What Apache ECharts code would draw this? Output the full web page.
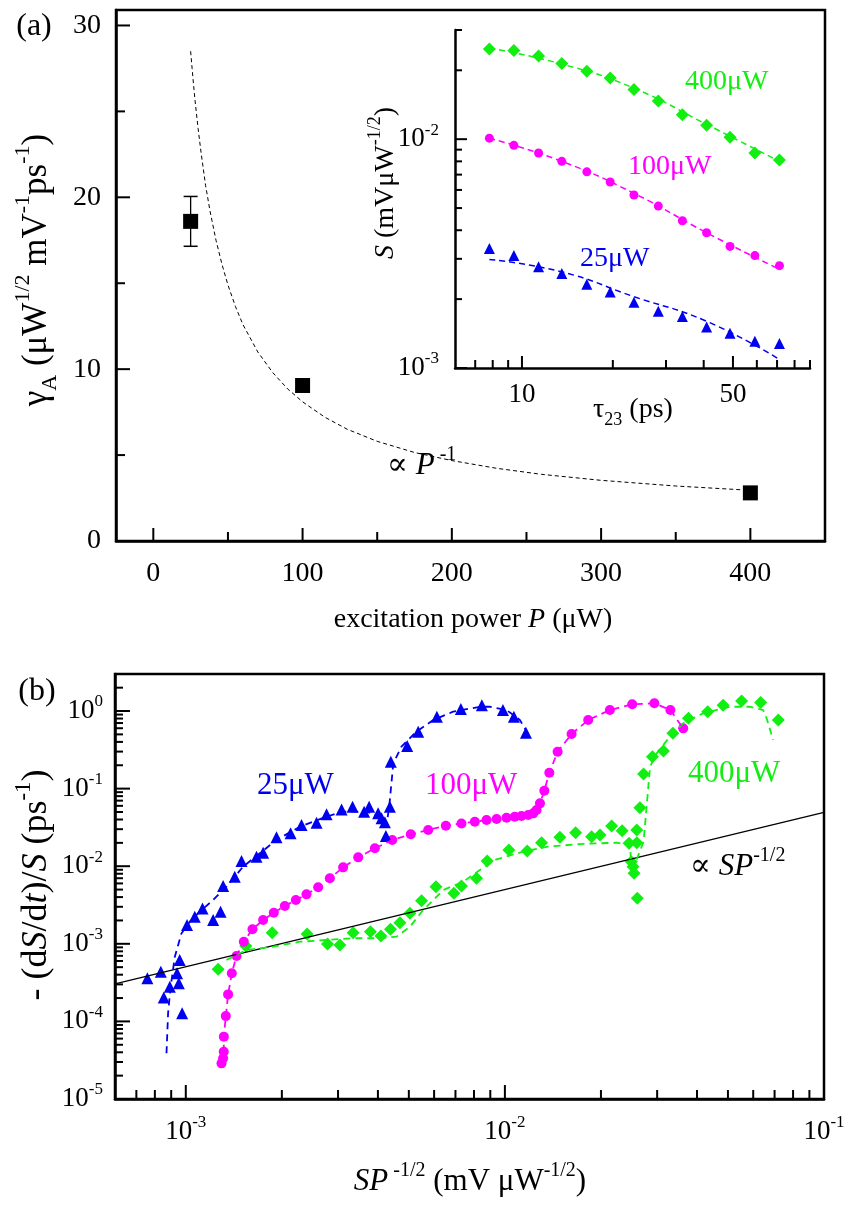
<!DOCTYPE html>
<html>
<head>
<meta charset="utf-8">
<script src="https://cdn.jsdelivr.net/npm/echarts@6/dist/echarts.min.js"></script>
<style>
html, body { margin: 0; padding: 0; background: #fff; }
#chart { width: 853px; height: 1205px; }
</style>
</head>
<body>
<div id="chart"></div>
<script>
var F = "'Liberation Serif', 'Times New Roman', 'DejaVu Serif', serif";
var BLUE = '#0000f0', MAG = '#ff00ff', GREEN = '#11ee11';

// ---- panel (a): gamma_A vs excitation power
var powerP = [25, 100, 400];
var gammaA = [18.6, 9.05, 2.8];
var errP = [25];
var errLo = [17.15];
var errHi = [20.05];
// dashed ~1/P curve
var fitP = [25, 26, 27, 28, 30, 32, 35, 38, 42, 46, 50, 55, 60, 70, 80, 90, 100, 115, 130, 150, 175, 200, 230, 260, 300, 350, 400];
var fitGamma = [28.5, 27.5, 26.5, 25.6, 24.0, 22.6, 20.7, 19.2, 17.5, 16.1, 14.9, 13.65, 12.6, 11.0, 9.8, 8.85, 8.1, 7.2, 6.5, 5.8, 5.15, 4.68, 4.23, 3.88, 3.53, 3.2, 2.95];
var aTicksX = [0, 100, 200, 300, 400];
var aMinorX = [50, 150, 250, 350];
var aTicksY = [0, 10, 20, 30];
var aMinorY = [5, 15, 25];

// ---- inset: S vs tau23
var tau = [7.8, 9.4, 11.35, 13.55, 16.4, 19.6, 23.5, 28.3, 34.0, 40.9, 48.9, 59.1, 71.3];
var s400 = [0.0248, 0.0244, 0.0231, 0.0214, 0.0198, 0.0185, 0.0165, 0.0147, 0.0128, 0.0115, 0.0102, 0.0087, 0.0081];
var s100 = [0.0101, 0.0094, 0.0087, 0.0080, 0.0072, 0.0065, 0.0057, 0.0051, 0.0044, 0.0039, 0.0034, 0.0031, 0.0028];
var s25 = [0.00333, 0.0031, 0.00277, 0.00259, 0.00232, 0.00215, 0.00194, 0.00177, 0.00168, 0.00151, 0.00142, 0.00131, 0.00128];
var tauFit = [7.8, 13.55, 23.5, 40.9, 71.3];
var fit400 = [0.0250, 0.0213, 0.0167, 0.0116, 0.0080];
var fit100 = [0.0101, 0.0080, 0.0058, 0.0039, 0.0027];
var fit25 = [0.00298, 0.00263, 0.00205, 0.0016, 0.00109];
var inTicksX = [10, 50];
var inMinorX = [7, 8, 9, 20, 30, 40, 60, 70, 80, 90];
var inTicksY = [0.001, 0.01];

// ---- panel (b): -(dS/dt)/S vs S P^-1/2
var x25 = [7.58e-4, 8.35e-4, 8.53e-4, 8.91e-4, 9.39e-4, 9.51e-4, 9.57e-4, 9.74e-4, 1.009e-3, 1.067e-3, 1.128e-3, 1.218e-3, 1.285e-3, 1.309e-3, 1.424e-3, 1.495e-3, 1.666e-3, 1.747e-3, 1.924e-3, 2.13e-3, 2.305e-3, 2.569e-3, 2.761e-3, 3.077e-3, 3.332e-3, 3.622e-3, 3.755e-3, 4.007e-3, 4.107e-3, 4.206e-3, 4.236e-3, 4.36e-3, 4.39e-3, 4.94e-3, 5.35e-3, 6.12e-3, 7.28e-3, 8.47e-3, 9.86e-3, 1.067e-2, 1.164e-2];
var y25 = [3.59e-4, 4.37e-4, 2.04e-4, 2.8e-4, 4.17e-4, 3.1e-4, 6.18e-4, 1.27e-4, 1.75e-3, 2.23e-3, 2.86e-3, 2.03e-3, 2.59e-3, 5.56e-3, 7.33e-3, 1.167e-2, 1.327e-2, 1.494e-2, 2.36e-2, 2.65e-2, 3.4e-2, 3.64e-2, 4.66e-2, 5.4e-2, 5.85e-2, 5.04e-2, 5.85e-2, 4.8e-2, 4.14e-2, 3.68e-2, 2.45e-2, 5.85e-2, 0.222, 0.354, 0.541, 0.845, 1.06, 1.19, 1.03, 0.845, 0.525];
var fx25 = [8.70e-4, 8.80e-4, 8.95e-4, 9.24e-4, 9.69e-4, 1.029e-3, 1.106e-3, 1.218e-3, 1.341e-3, 1.512e-3, 1.706e-3, 1.924e-3, 2.277e-3, 2.761e-3, 3.11e-3, 3.685e-3, 4.055e-3, 4.256e-3, 4.34e-3, 4.47e-3, 4.74e-3, 5.28e-3, 5.96e-3, 6.88e-3, 8.35e-3, 8.97e-3, 1.012e-2, 1.114e-2, 1.197e-2];
var fy25 = [3.88e-5, 1.27e-4, 2.67e-4, 6.82e-4, 1.36e-3, 1.93e-3, 2.6e-3, 3.67e-3, 5.44e-3, 9.86e-3, 1.467e-2, 2.18e-2, 3.23e-2, 4.35e-2, 5.05e-2, 5.05e-2, 4.35e-2, 3.4e-2, 5.85e-2, 0.212, 0.347, 0.541, 0.766, 0.98, 1.135, 1.135, 1.03, 0.766, 0.467];

var x100 = [1.294e-3, 1.309e-3, 1.315e-3, 1.316e-3, 1.335e-3, 1.357e-3, 1.394e-3, 1.442e-3, 1.52e-3, 1.618e-3, 1.747e-3, 1.887e-3, 2.043e-3, 2.213e-3, 2.389e-3, 2.599e-3, 2.828e-3, 3.112e-3, 3.47e-3, 3.913e-3, 4.435e-3, 5.07e-3, 5.75e-3, 6.53e-3, 7.31e-3, 8.05e-3, 8.76e-3, 9.42e-3, 1.012e-2, 1.074e-2, 1.127e-2, 1.183e-2, 1.227e-2, 1.257e-2, 1.288e-2, 1.329e-2, 1.378e-2, 1.463e-2, 1.618e-2, 1.824e-2, 2.133e-2, 2.506e-2, 2.94e-2, 3.30e-2, 3.62e-2];
var y100 = [2.88e-5, 3.34e-5, 4.07e-5, 6.36e-5, 1.17e-4, 2.23e-4, 4.17e-4, 6.97e-4, 1.064e-3, 1.54e-3, 2.03e-3, 2.52e-3, 3.07e-3, 3.67e-3, 4.34e-3, 5.35e-3, 6.98e-3, 9.67e-3, 1.30e-2, 1.70e-2, 2.18e-2, 2.58e-2, 2.93e-2, 3.33e-2, 3.56e-2, 3.75e-2, 3.94e-2, 4.06e-2, 4.22e-2, 4.35e-2, 4.43e-2, 4.57e-2, 4.8e-2, 5.3e-2, 6.46e-2, 9.4e-2, 0.16, 0.299, 0.506, 0.766, 1.03, 1.22, 1.26, 1.03, 0.598];

var x400 = [1.263e-3, 1.542e-3, 1.865e-3, 2.4e-3, 2.78e-3, 3.04e-3, 3.345e-3, 3.79e-3, 4.086e-3, 4.38e-3, 4.69e-3, 5.04e-3, 5.48e-3, 6.08e-3, 6.92e-3, 7.31e-3, 8.15e-3, 8.8e-3, 1.029e-2, 1.175e-2, 1.303e-2, 1.487e-2, 1.666e-2, 1.87e-2, 1.986e-2, 2.16e-2, 2.33e-2, 2.45e-2, 2.59e-2, 2.59e-2, 2.49e-2, 2.52e-2, 2.54e-2, 2.6e-2, 2.65e-2, 2.72e-2, 2.9e-2, 3.14e-2, 3.36e-2, 3.76e-2, 4.32e-2, 4.83e-2, 5.52e-2, 6.33e-2, 7.19e-2];
var y400 = [4.69e-4, 9.37e-4, 1.39e-3, 1.337e-3, 9.93e-4, 9.66e-4, 1.39e-3, 1.432e-3, 1.26e-3, 1.54e-3, 1.87e-3, 2.47e-3, 3.59e-3, 5.44e-3, 4.48e-3, 5.56e-3, 6.98e-3, 1.167e-2, 1.62e-2, 1.57e-2, 2.01e-2, 2.36e-2, 2.7e-2, 2.4e-2, 2.52e-2, 3.3e-2, 2.87e-2, 1.97e-2, 2.01e-2, 2.93e-2, 1.14e-2, 9.86e-3, 8.1e-3, 3.86e-3, 5.68e-2, 0.154, 0.258, 0.305, 0.516, 0.805, 0.98, 1.19, 1.35, 1.29, 0.766];
var fx400 = [1.341e-3, 1.55e-3, 1.878e-3, 2.277e-3, 2.761e-3, 3.345e-3, 4.055e-3, 4.575e-3, 5.04e-3, 5.55e-3, 6.41e-3, 7.4e-3, 8.35e-3, 9.42e-3, 1.141e-2, 1.351e-2, 1.718e-2, 2.24e-2, 2.47e-2, 2.49e-2, 2.72e-2, 2.78e-2, 2.85e-2, 2.99e-2, 3.29e-2, 3.62e-2, 4.18e-2, 5.07e-2, 5.86e-2, 6.45e-2, 6.61e-2, 6.93e-2];
var fy400 = [6.18e-4, 8.32e-4, 9.18e-4, 1.064e-3, 1.12e-3, 1.18e-3, 1.18e-3, 1.236e-3, 1.66e-3, 2.73e-3, 4.93e-3, 6.31e-3, 8.93e-3, 1.227e-2, 1.54e-2, 1.78e-2, 1.93e-2, 2.01e-2, 1.88e-2, 8.1e-3, 2.07e-2, 5.85e-2, 0.191, 0.285, 0.467, 0.694, 0.934, 1.135, 1.135, 1.03, 0.805, 0.423];

// straight reference line  ~ S P^-1/2
var refX = [6e-4, 0.1];
var refY = [3.05e-4, 0.0495];
var bTicksX = [0.001, 0.01, 0.1];
var bTicksY = [1e-5, 1e-4, 1e-3, 1e-2, 1e-1, 1];

// 2..9 x 10^e minor ticks
function minorLog(e0, e1) {
    var out = [];
    for (var e = e0; e <= e1; e++) {
        for (var m = 2; m <= 9; m++) out.push(+(m * Math.pow(10, e)).toPrecision(3));
    }
    return out;
}
var inMinorY = minorLog(-3, -3).concat([0.02, 0.03]);
var bMinorX = [7e-4, 8e-4, 9e-4].concat(minorLog(-3, -2));
var bMinorY = minorLog(-5, -1).concat([2, 3]);

function zip(xs, ys) {
    return xs.map(function (x, i) { return [x, ys[i]]; });
}

function logLabel(v) {
    var e = Math.round(Math.log(v) / Math.LN10);
    return '{b|10}{s|' + e + '}';
}
function logRich(size) {
    return {
        b: { fontSize: size, fontFamily: F, color: '#000', lineHeight: size + 8 },
        s: { fontSize: Math.round(size * 0.63), fontFamily: F, color: '#000', lineHeight: Math.round(size * 0.63), verticalAlign: 'top' }
    };
}

function axis(gi, pos, type, min, max, majors, label) {
    var a = {
        gridIndex: gi, position: pos, type: type, min: min, max: max,
        splitLine: { show: false },
        axisLine: { show: true, onZero: false, lineStyle: { color: '#000', width: 2.5 } },
        axisTick: { show: false },
        axisLabel: label
    };
    a.axisLabel.customValues = majors;
    if (type === 'log') a.logBase = 10;
    return a;
}
function numLabel(size, margin) {
    return { fontSize: size, fontFamily: F, color: '#000', margin: margin };
}

// text helper (rich: n normal, i italic, sup, sub)
function richSet(size, color) {
    var small = Math.round(size * 0.64);
    return {
        n: { fontSize: size, fontFamily: F, fill: color, color: color, lineHeight: Math.round(size * 1.4) },
        i: { fontSize: size, fontFamily: F, fontStyle: 'italic', fill: color, color: color, lineHeight: Math.round(size * 1.4) },
        sup: { fontSize: small, fontFamily: F, fill: color, color: color, lineHeight: small, verticalAlign: 'top' },
        sub: { fontSize: small, fontFamily: F, fill: color, color: color, lineHeight: small, verticalAlign: 'bottom' }
    };
}
function txt(x, y, text, size, color, align, rot) {
    return {
        type: 'text', x: x, y: y, z: 100,
        rotation: rot || 0,
        style: {
            text: text, rich: richSet(size, color || '#000'),
            fill: color || '#000', font: size + 'px ' + F,
            align: align || 'center', verticalAlign: 'middle'
        }
    };
}

var texts = [
    txt(34, 27, '{n|(a)}', 32),
    txt(37, 270, '{n|γ}{sub|A}{n| (μW}{sup|1/2}{n| mV}{sup|-1}{n|ps}{sup|-1}{n|)}', 35, '#000', 'center', Math.PI / 2),
    txt(473, 620, '{n|excitation power }{i|P}{n| (μW)}', 28),
    txt(387, 466, '{n|∝ }{i|P}{sup| -1}', 31, '#000', 'left'),
    txt(386, 183, '{i|S}{n| (mVμW}{sup|-1/2}{n|)}', 28, '#000', 'center', Math.PI / 2),
    txt(633, 410, '{n|τ}{sub|23}{n| (ps)}', 28),
    txt(685, 82, '{n|400μW}', 28, GREEN, 'left'),
    txt(628, 167, '{n|100μW}', 28, MAG, 'left'),
    txt(580, 259, '{n|25μW}', 28, BLUE, 'left'),
    txt(37, 692, '{n|(b)}', 32),
    txt(37, 885, '{n|- (d}{i|S}{n|/d}{i|t}{n|)/}{i|S}{n| (ps}{sup|-1}{n|)}', 36, '#000', 'center', Math.PI / 2),
    txt(470, 1182, '{i|SP}{sup| -1/2}{n| (mV μW}{sup|-1/2}{n|)}', 31),
    txt(257, 786, '{n|25μW}', 31, BLUE, 'left'),
    txt(425, 786, '{n|100μW}', 31, MAG, 'left'),
    txt(688, 774, '{n|400μW}', 31, GREEN, 'left'),
    txt(690, 867, '{n|∝ }{i|SP}{sup|-1/2}', 31, '#000', 'left')
];

var seriesList = [
    // (a)
    { type: 'line', xAxisIndex: 0, yAxisIndex: 0, data: zip(fitP, fitGamma), symbol: 'none',
      lineStyle: { color: '#000', width: 1, type: [4, 3] } },
    { type: 'line', xAxisIndex: 0, yAxisIndex: 0, data: [[errP[0], errLo[0]], [errP[0], errHi[0]]], symbol: 'none',
      lineStyle: { color: '#000', width: 1.3 } },
    { type: 'scatter', xAxisIndex: 0, yAxisIndex: 0, data: [[errP[0], errLo[0]], [errP[0], errHi[0]]], symbol: 'rect', symbolSize: [14, 1.5],
      itemStyle: { color: '#000', opacity: 1 } },
    { type: 'scatter', xAxisIndex: 0, yAxisIndex: 0, data: zip(powerP, gammaA), symbol: 'rect', symbolSize: 15,
      itemStyle: { color: '#000', opacity: 1 } },
    // inset
    { type: 'line', xAxisIndex: 1, yAxisIndex: 1, data: zip(tauFit, fit400), symbol: 'none', smooth: true,
      lineStyle: { color: GREEN, width: 1.5, type: [6, 4] } },
    { type: 'line', xAxisIndex: 1, yAxisIndex: 1, data: zip(tauFit, fit100), symbol: 'none', smooth: true,
      lineStyle: { color: MAG, width: 1.5, type: [6, 4] } },
    { type: 'line', xAxisIndex: 1, yAxisIndex: 1, data: zip(tauFit, fit25), symbol: 'none', smooth: true,
      lineStyle: { color: BLUE, width: 1.5, type: [6, 4] } },
    { type: 'scatter', xAxisIndex: 1, yAxisIndex: 1, data: zip(tau, s400), symbol: 'diamond', symbolSize: 13, itemStyle: { color: GREEN, opacity: 1 } },
    { type: 'scatter', xAxisIndex: 1, yAxisIndex: 1, data: zip(tau, s100), symbol: 'circle', symbolSize: 9, itemStyle: { color: MAG, opacity: 1 } },
    { type: 'scatter', xAxisIndex: 1, yAxisIndex: 1, data: zip(tau, s25), symbol: 'triangle', symbolSize: 11, itemStyle: { color: BLUE, opacity: 1 } },
    // (b)
    { type: 'line', xAxisIndex: 2, yAxisIndex: 2, data: zip(refX, refY), symbol: 'none',
      lineStyle: { color: '#000', width: 1.2 } },
    { type: 'line', xAxisIndex: 2, yAxisIndex: 2, data: zip(fx25, fy25), symbol: 'none',
      lineStyle: { color: BLUE, width: 1.8, type: [7, 5] } },
    { type: 'line', xAxisIndex: 2, yAxisIndex: 2, data: zip(fx400, fy400), symbol: 'none',
      lineStyle: { color: GREEN, width: 1.8, type: [7, 5] } },
    { type: 'line', xAxisIndex: 2, yAxisIndex: 2, data: zip(x100, y100), symbol: 'none',
      lineStyle: { color: MAG, width: 1.8, type: [7, 5] } },
    { type: 'scatter', xAxisIndex: 2, yAxisIndex: 2, data: zip(x400, y400), symbol: 'diamond', symbolSize: 13, itemStyle: { color: GREEN, opacity: 1 } },
    { type: 'scatter', xAxisIndex: 2, yAxisIndex: 2, data: zip(x100, y100), symbol: 'circle', symbolSize: 10, itemStyle: { color: MAG, opacity: 1 } },
    { type: 'scatter', xAxisIndex: 2, yAxisIndex: 2, data: zip(x25, y25), symbol: 'triangle', symbolSize: 12, itemStyle: { color: BLUE, opacity: 1 } }
];

var chart = echarts.init(document.getElementById('chart'), null, { renderer: 'canvas' });

var option = {
    animation: false,
    backgroundColor: '#fff',
    grid: [
        { left: 116, top: 10, width: 709, height: 531, show: true, borderColor: '#000', borderWidth: 2.5, outerBoundsMode: 'none' },
        { left: 455, top: 30, width: 355, height: 338, outerBoundsMode: 'none' },
        { left: 115, top: 674, width: 709, height: 425, show: true, borderColor: '#000', borderWidth: 2.5, outerBoundsMode: 'none' }
    ],
    xAxis: [
        axis(0, 'bottom', 'value', -25, 450, aTicksX, numLabel(28, 19)),
        axis(1, 'bottom', 'log', 6, 90, inTicksX, numLabel(27, 13)),
        axis(2, 'bottom', 'log', 6e-4, 0.1, bTicksX, { formatter: logLabel, rich: logRich(27), margin: 15 })
    ],
    yAxis: [
        axis(0, 'left', 'value', 0, 30.9, aTicksY, numLabel(28, 15)),
        axis(1, 'left', 'log', 0.001, 0.03, inTicksY, { formatter: logLabel, rich: logRich(27), margin: 16 }),
        axis(2, 'left', 'log', 1e-5, 3, bTicksY, { formatter: logLabel, rich: logRich(27), margin: 12 })
    ],
    series: seriesList,
    graphic: texts
};

chart.setOption(option);

// inward tick marks as short two-point line series; the tick length (px)
// is turned back into data units through the axis scale
function tickSeries(gi, dir, values, base, len) {
    var other = dir === 'x' ? { yAxisIndex: gi } : { xAxisIndex: gi };
    var basePx = chart.convertToPixel(other, base);
    var end = chart.convertFromPixel(other, dir === 'x' ? basePx - len : basePx + len);
    return values.map(function (v) {
        return {
            type: 'line', xAxisIndex: gi, yAxisIndex: gi, symbol: 'none', silent: true,
            data: dir === 'x' ? [[v, base], [v, end]] : [[base, v], [end, v]],
            lineStyle: { color: '#000', width: 2 }
        };
    });
}

var tickList = [].concat(
    tickSeries(0, 'x', aTicksX, 0, 13), tickSeries(0, 'x', aMinorX, 0, 9),
    tickSeries(0, 'y', aTicksY, -25, 14), tickSeries(0, 'y', aMinorY, -25, 9),
    tickSeries(1, 'x', inTicksX, 0.001, 12), tickSeries(1, 'x', inMinorX, 0.001, 8),
    tickSeries(1, 'y', inTicksY, 6, 12), tickSeries(1, 'y', inMinorY, 6, 7),
    tickSeries(2, 'x', bTicksX, 1e-5, 14), tickSeries(2, 'x', bMinorX, 1e-5, 9),
    tickSeries(2, 'y', bTicksY, 6e-4, 15), tickSeries(2, 'y', bMinorY, 6e-4, 8)
);
chart.setOption({ series: seriesList.concat(tickList) });
</script>
</body>
</html>
